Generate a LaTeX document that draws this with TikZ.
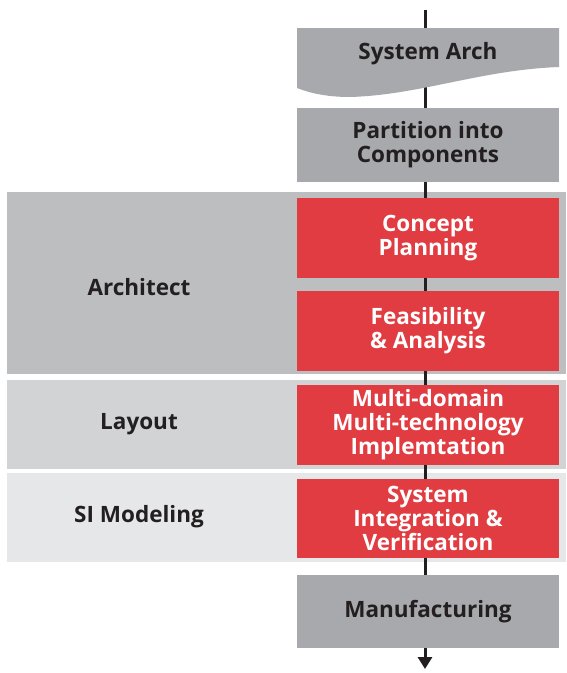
\documentclass[tikz,border=0pt]{standalone}
\usepackage{fontspec}
\setmainfont{Open Sans}
\usetikzlibrary{arrows.meta}
\definecolor{boxgray}{HTML}{A7A9AC}
\definecolor{boxred}{HTML}{E03C41}
\definecolor{bandA}{HTML}{BCBEC0}
\definecolor{bandB}{HTML}{D1D3D4}
\definecolor{bandC}{HTML}{E6E7E8}
\definecolor{ink}{HTML}{231F20}
\tikzset{
  box/.style={minimum width=262pt,inner sep=0pt,align=center,
    font=\bfseries\fontsize{22.5}{24}\selectfont},
  graybox/.style={box,fill=boxgray,text=ink},
  redbox/.style={box,fill=boxred,text=white,minimum height=80pt},
  band/.style={minimum width=559pt,minimum height=89pt,inner sep=0pt},
  bandtext/.style={font=\bfseries\fontsize{22.5}{24}\selectfont,text=ink}
}
\begin{document}
\begin{tikzpicture}[x=1pt,y=-1pt]
  \useasboundingbox (0,0) rectangle (566,673);
  \node[band,fill=bandA,minimum height=182pt] (archband) at (286.5,283) {};
  \node[band,fill=bandB] (layband) at (286.5,424.5) {};
  \node[band,fill=bandC] (siband) at (286.5,517.5) {};
  \node[bandtext] (arch) at (139,287) {Architect};
  \node[bandtext] (lay) at (139,424) {Layout};
  \node[bandtext] (simod) at (139,517) {SI Modeling};
  \coordinate (top) at (425,10);
  \coordinate (bottom) at (425,669);
  \draw[line width=3pt,color=ink,-{Triangle[width=14pt,length=12pt]}] (top) -- (bottom);
  \fill[boxgray] (297,28) -- (559,28) -- (559,67)
    .. controls (480,70) and (420,95) .. (350,97)
    .. controls (330,97) and (312,94) .. (297,88) -- cycle;
  \node[box,text=ink] (sys) at (428,54) {System Arch};
  \node[graybox,minimum height=74pt] (part) at (428,145) {Partition into\\Components};
  \node[redbox] (concept) at (428,238) {Concept\\Planning};
  \node[redbox] (feas) at (428,331) {Feasibility\\\& Analysis};
  \node[redbox] (multi) at (428,425) {Multi-domain\\Multi-technology\\Implemtation};
  \node[redbox,minimum height=79pt] (sysint) at (428,518.5) {System\\Integration \&\\Verification};
  \node[graybox,minimum height=73pt] (manuf) at (428,611.5) {Manufacturing};
\end{tikzpicture}
\end{document}
